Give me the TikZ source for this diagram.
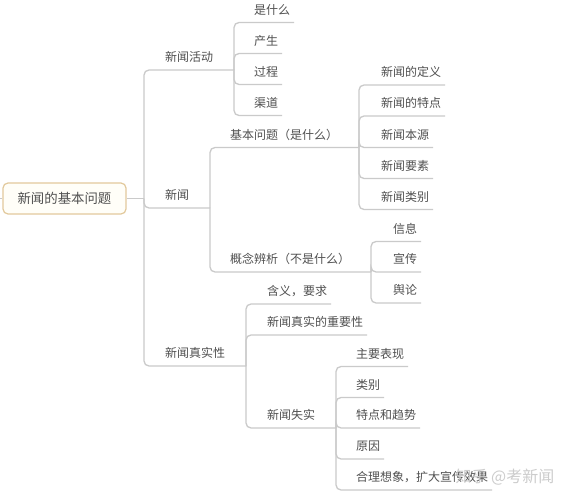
\documentclass[tikz,border=0pt]{standalone}
\usepackage{fontspec}
\setmainfont{Noto Sans CJK SC}
\definecolor{linegray}{HTML}{CACACA}
\definecolor{textgray}{HTML}{505050}
\definecolor{roottan}{HTML}{E2C99C}
\definecolor{rootfill}{HTML}{FFFEF8}
\tikzset{
  link/.style={draw=linegray, line width=1.3pt, rounded corners=5pt},
  topic/.style={anchor=south west, inner xsep=0pt, inner ysep=8.4pt, outer sep=0pt, text depth=0pt, text=textgray, font=\fontsize{12pt}{14pt}\selectfont, execute at begin node=\hspace*{21pt}},
  leaf/.style={topic, execute at end node=\hspace*{4pt}},
  branch/.style={topic, execute at end node=\hspace*{21pt}},
  rootbox/.style={draw=roottan, fill=rootfill, line width=1.2pt, rounded corners=5pt, minimum width=123pt, minimum height=31pt, inner sep=0pt, text height=11.6pt, text depth=1.4pt, text=textgray, font=\fontsize{13.4pt}{15pt}\selectfont},
}
\begin{document}
\begin{tikzpicture}[x=1pt, y=-1pt]
        \fill[white] (0,0) rectangle (571,500);
        \useasboundingbox (0,0) rectangle (571,500);

        % root
        \node[rootbox] (root) at (64.5,198.5) {新闻的基本问题};
        \coordinate (stub) at (0,198.5);
        \coordinate (rj) at (144,198.5);

        % first level
        \node[branch] (act) at (144,70) {新闻活动};
        \node[branch] (news) at (144,208) {新闻};
        \node[branch] (truth) at (144,366) {新闻真实性};

        % news activity
        \node[leaf] (what) at (233,22.5) {是什么};
        \node[leaf] (gen) at (233,53.5) {产生};
        \node[leaf] (proc) at (233,84.5) {过程};
        \node[leaf] (chan) at (233,115.5) {渠道};

        % news
        \node[branch] (basic) at (209,147.5) {基本问题（是什么）};
        \node[branch] (concept) at (209,272) {概念辨析（不是什么）};

        \node[leaf] (def) at (360,85) {新闻的定义};
        \node[leaf] (feat) at (360,116) {新闻的特点};
        \node[leaf] (src) at (360,147.5) {新闻本源};
        \node[leaf] (elem) at (360,178.5) {新闻要素};
        \node[leaf] (kind) at (360,209.5) {新闻类别};

        \node[leaf] (info) at (372,241.5) {信息};
        \node[leaf] (prop) at (372,272) {宣传};
        \node[leaf] (opin) at (372,303) {舆论};

        % news truth
        \node[leaf] (mean) at (246,304) {含义，要求};
        \node[leaf] (imp) at (246,335) {新闻真实的重要性};
        \node[branch] (fail) at (246,428) {新闻失实};

        \node[leaf] (show) at (335,366.5) {主要表现};
        \node[leaf] (cat) at (335,397.5) {类别};
        \node[leaf] (trend) at (335,428) {特点和趋势};
        \node[leaf] (cause) at (335,459) {原因};
        \node[leaf] (imag) at (335,490) {合理想象，扩大宣传效果};

        % links
        \draw[link] (stub) -- (root.west);
        \draw[link] (root.east) -- (rj);
        \draw[link] (rj) |- (act.south east);
        \draw[link] (rj) |- (news.south east);
        \draw[link] (rj) |- (truth.south east);

        \draw[link] (act.south east) |- (what.south east);
        \draw[link] (act.south east) |- (gen.south east);
        \draw[link] (act.south east) |- (proc.south east);
        \draw[link] (act.south east) |- (chan.south east);

        \draw[link] (news.south east) |- (basic.south east);
        \draw[link] (news.south east) |- (concept.south east);

        \draw[link] (basic.south east) |- (def.south east);
        \draw[link] (basic.south east) |- (feat.south east);
        \draw[link] (basic.south east) |- (src.south east);
        \draw[link] (basic.south east) |- (elem.south east);
        \draw[link] (basic.south east) |- (kind.south east);

        \draw[link] (concept.south east) |- (info.south east);
        \draw[link] (concept.south east) |- (prop.south east);
        \draw[link] (concept.south east) |- (opin.south east);

        \draw[link] (truth.south east) |- (mean.south east);
        \draw[link] (truth.south east) |- (imp.south east);
        \draw[link] (truth.south east) |- (fail.south east);

        \draw[link] (fail.south east) |- (show.south east);
        \draw[link] (fail.south east) |- (cat.south east);
        \draw[link] (fail.south east) |- (trend.south east);
        \draw[link] (fail.south east) |- (cause.south east);
        \draw[link] (fail.south east) |- (imag.south east);

        % watermark
        \node[text=black!22, opacity=0.9, font=\fontsize{16pt}{18pt}\selectfont] (mark) at (505,477) {知乎 @考新闻};
\end{tikzpicture}
\end{document}
